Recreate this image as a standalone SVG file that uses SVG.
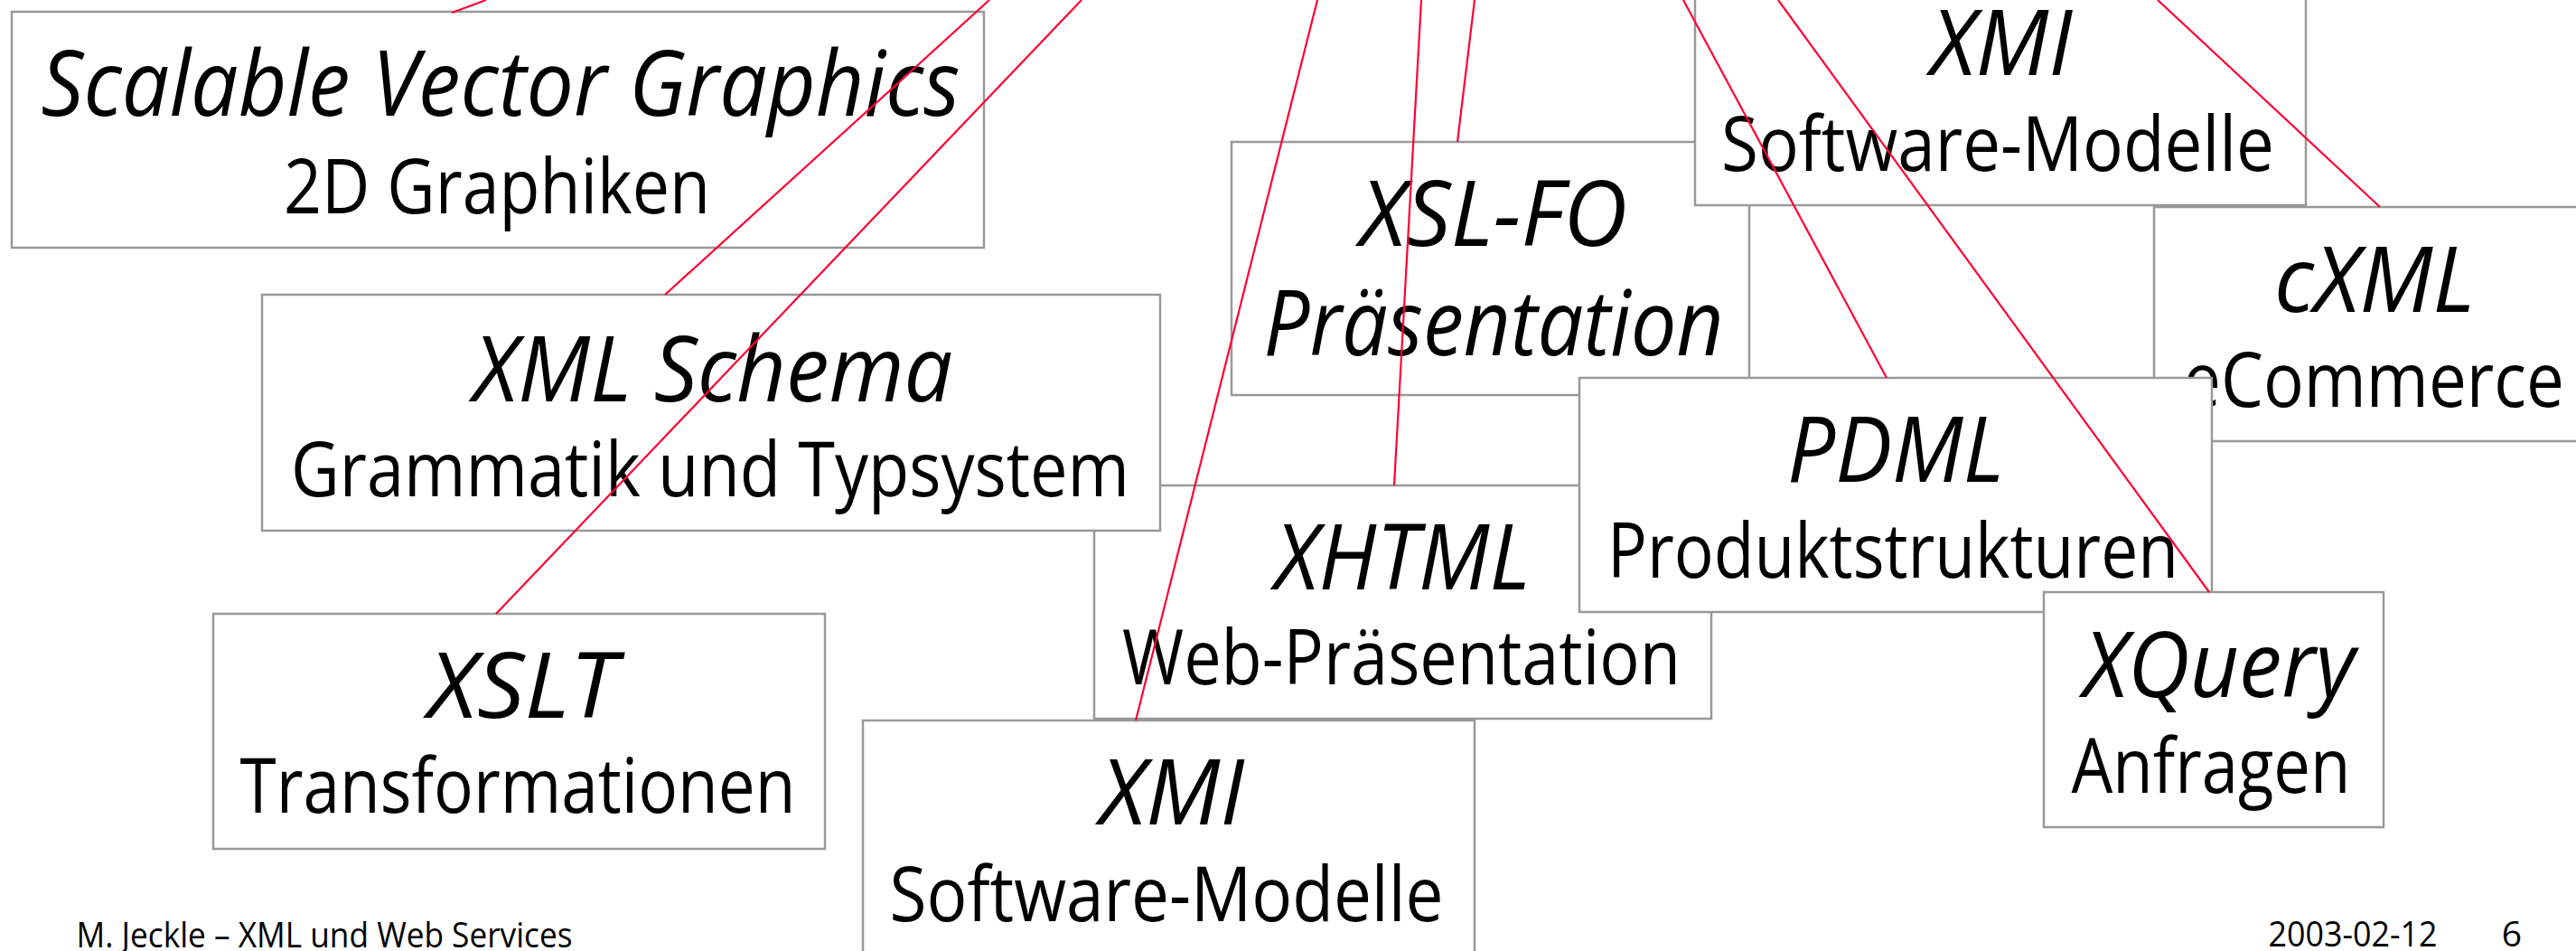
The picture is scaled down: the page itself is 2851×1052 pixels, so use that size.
<svg xmlns="http://www.w3.org/2000/svg" width="2851" height="1052" viewBox="0 0 2851 1052">
<style>
.box{fill:#fff;stroke:#999;stroke-width:2.5}
text{font-family:"Open Sans","Noto Sans","Liberation Sans",sans-serif;fill:#000;text-anchor:middle}
.t{font-size:101px;font-style:italic}
.s{font-size:85px}
.f{font-size:39px}
.c line{stroke:#ff0033;stroke-width:2.2;fill:none}
</style>
<rect width="2851" height="1052" fill="#fff"/>
<g id="svg">
<rect class="box" x="13" y="13" width="1076" height="261"/>
<text class="t" x="554" y="128" textLength="1017" lengthAdjust="spacingAndGlyphs">Scalable Vector Graphics</text>
<text class="s" x="550" y="236" textLength="472" lengthAdjust="spacingAndGlyphs">2D Graphiken</text>
</g>
<g id="xslfo">
<rect class="box" x="1363" y="157" width="573" height="280"/>
<text class="t" x="1653" y="272" textLength="296" lengthAdjust="spacingAndGlyphs">XSL-FO</text>
<text class="t" x="1653" y="393" textLength="509" lengthAdjust="spacingAndGlyphs">Präsentation</text>
</g>
<g id="xmi-top">
<rect class="box" x="1876" y="-60" width="676" height="287"/>
<text class="t" x="2215" y="83" textLength="157" lengthAdjust="spacingAndGlyphs">XMI</text>
<text class="s" x="2211" y="189" textLength="612" lengthAdjust="spacingAndGlyphs">Software-Modelle</text>
</g>
<g id="cxml">
<rect class="box" x="2384" y="229" width="520" height="259"/>
<text class="t" x="2628" y="345" textLength="222" lengthAdjust="spacingAndGlyphs">cXML</text>
<text class="s" x="2627" y="450" textLength="422" lengthAdjust="spacingAndGlyphs">eCommerce</text>
</g>
<g id="xhtml">
<rect class="box" x="1211" y="537" width="683" height="258"/>
<text class="t" x="1552" y="652" textLength="283" lengthAdjust="spacingAndGlyphs">XHTML</text>
<text class="s" x="1551" y="757" textLength="618" lengthAdjust="spacingAndGlyphs">Web-Präsentation</text>
</g>
<g id="xmlschema">
<rect class="box" x="290" y="326" width="994" height="261"/>
<text class="t" x="789" y="444" textLength="531" lengthAdjust="spacingAndGlyphs">XML Schema</text>
<text class="s" x="786" y="549" textLength="928" lengthAdjust="spacingAndGlyphs">Grammatik und Typsystem</text>
</g>
<g id="pdml">
<rect class="box" x="1748" y="418" width="700" height="259"/>
<text class="t" x="2098" y="533" textLength="240" lengthAdjust="spacingAndGlyphs">PDML</text>
<text class="s" x="2095" y="639" textLength="632" lengthAdjust="spacingAndGlyphs">Produktstrukturen</text>
</g>
<g id="xquery">
<rect class="box" x="2262" y="655" width="376" height="260"/>
<text class="t" x="2456" y="771" textLength="301" lengthAdjust="spacingAndGlyphs">XQuery</text>
<text class="s" x="2447" y="877" textLength="309" lengthAdjust="spacingAndGlyphs">Anfragen</text>
</g>
<g id="xslt">
<rect class="box" x="236" y="679" width="677" height="260"/>
<text class="t" x="578" y="794" textLength="209" lengthAdjust="spacingAndGlyphs">XSLT</text>
<text class="s" x="573" y="899" textLength="615" lengthAdjust="spacingAndGlyphs">Transformationen</text>
</g>
<g id="xmi-bottom">
<rect class="box" x="955" y="797" width="677" height="300"/>
<text class="t" x="1297" y="912" textLength="160" lengthAdjust="spacingAndGlyphs">XMI</text>
<text class="s" x="1291" y="1019" textLength="613" lengthAdjust="spacingAndGlyphs">Software-Modelle</text>
</g>
<g id="connectors" class="c">
<line x1="538" y1="0" x2="500" y2="14"/>
<line x1="1095" y1="0" x2="736" y2="326"/>
<line x1="1197" y1="0" x2="549" y2="679"/>
<line x1="1458" y1="0" x2="1257" y2="797"/>
<line x1="1573" y1="0" x2="1543" y2="537"/>
<line x1="1632" y1="0" x2="1613" y2="157"/>
<line x1="1863" y1="0" x2="2088" y2="418"/>
<line x1="1968" y1="0" x2="2445" y2="655"/>
<line x1="2388" y1="0" x2="2634" y2="229"/>
</g>
<g id="footer">
<text class="f" x="359" y="1048" textLength="549" lengthAdjust="spacingAndGlyphs">M. Jeckle – XML und Web Services</text>
<text class="f" x="2604" y="1047" textLength="187" lengthAdjust="spacingAndGlyphs">2003-02-12</text>
<text class="f" x="2780" y="1047">6</text>
</g>
</svg>
